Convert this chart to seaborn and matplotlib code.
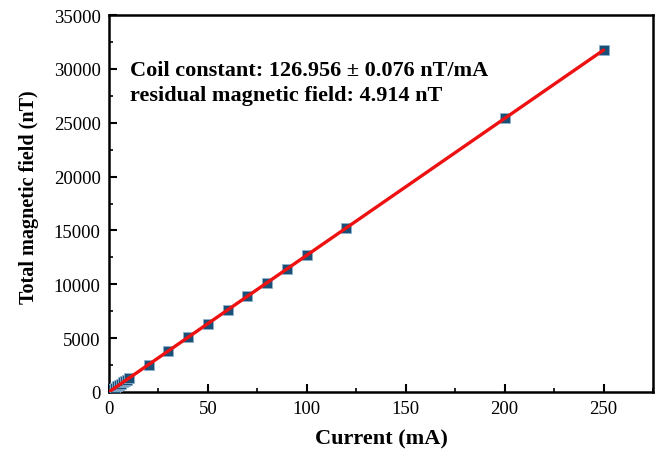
import numpy as np
import pandas as pd
import matplotlib
matplotlib.use("Agg")
import matplotlib.pyplot as plt
import seaborn as sns
from matplotlib.ticker import MultipleLocator

current = [0, 1, 2, 3, 4, 5, 6, 7, 8, 9, 10, 20, 30, 40, 50, 60, 70, 80, 90, 100, 120, 200, 250]
field = [5, 132, 259, 386, 513, 640, 767, 894, 1021, 1148, 1275, 2544, 3813, 5083, 6353,
         7622, 8892, 10161, 11431, 12700, 15240, 25396, 31744]
slope = 126.956
intercept = 4.914

sns.set_theme(style="white")
plt.rcParams['font.family'] = ['Liberation Serif', 'DejaVu Serif']
plt.rcParams['text.color'] = 'black'
plt.rcParams['axes.labelcolor'] = 'black'
plt.rcParams['xtick.color'] = 'black'
plt.rcParams['ytick.color'] = 'black'

fig = plt.figure(figsize=(6.68, 4.56), dpi=100)
ax = fig.add_axes([109/668, 1 - 393/456, (653-109)/668, (393-16)/456])

df = pd.DataFrame({"Current (mA)": current, "Total magnetic field (nT)": field})
sns.scatterplot(data=df, x="Current (mA)", y="Total magnetic field (nT)", ax=ax,
                marker="s", s=60, color="#1a5078", edgecolor="#8fb3cf", linewidth=0.6, zorder=3)
xs = np.array([0, 250])
sns.lineplot(x=xs, y=slope * xs + intercept, ax=ax, color="#ee1111", linewidth=2.4, zorder=4)

ax.set_xlim(0, 275)
ax.set_ylim(0, 35000)
ax.xaxis.set_major_locator(MultipleLocator(50))
ax.xaxis.set_minor_locator(MultipleLocator(25))
ax.yaxis.set_major_locator(MultipleLocator(5000))
ax.yaxis.set_minor_locator(MultipleLocator(2500))
ax.tick_params(which="major", direction="in", length=6, width=1.5, labelsize=13.5,
               left=True, bottom=True, colors="black", pad=6)
ax.tick_params(which="minor", direction="in", length=3, width=1.2, left=True, bottom=True)
for sp in ax.spines.values():
    sp.set_linewidth(1.8)
    sp.set_color("black")

ax.set_xlabel("Current (mA)", fontsize=16, fontweight="bold", labelpad=8)
ax.set_ylabel("Total magnetic field (nT)", fontsize=14.5, fontweight="bold")
ax.yaxis.set_label_coords(-0.128, 0.519)

ax.text(10.5, 29850, "Coil constant: 126.956 ± 0.076 nT/mA", fontsize=16, fontweight="bold",
        va="center", ha="left")
ax.text(10.5, 27550, "residual magnetic field: 4.914 nT", fontsize=16, fontweight="bold",
        va="center", ha="left")

fig.savefig("out.png", dpi=100)
